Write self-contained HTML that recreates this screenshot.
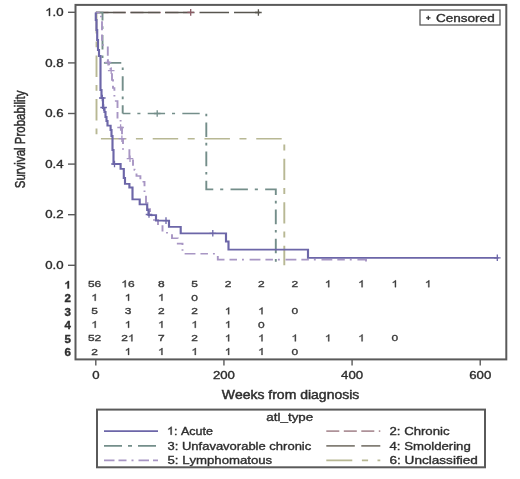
<!DOCTYPE html>
<html><head><meta charset="utf-8"><style>
html,body{margin:0;padding:0;background:#fff;}
svg{display:block;font-family:"Liberation Sans", sans-serif;font-kerning:none;filter:blur(0.3px);}
</style></head><body>
<svg width="520" height="479" viewBox="0 0 520 479">
<rect width="520" height="479" fill="#fff"/>
<rect x="75.5" y="4.9" width="430.8" height="354.5" fill="none" stroke="#5a5a5a" stroke-width="2"/>
<line x1="68" y1="12.30" x2="75.5" y2="12.30" stroke="#5a5a5a" stroke-width="1.4"/>
<text transform="translate(45.15,15.90) scale(1.2,1)" font-size="11" font-weight="normal" fill="#2e2e2e" stroke="#2e2e2e" stroke-width="0.35" > .0</text>
<path transform="translate(45.15,15.90) scale(0.00645,-0.00537)" d="M763 0H583V1147Q518 1085 412 1023Q306 961 222 930V1104Q373 1175 486 1276Q599 1377 646 1472H763Z" fill="#2e2e2e" stroke="#2e2e2e" stroke-width="0.35" vector-effect="non-scaling-stroke"/>
<line x1="68" y1="62.90" x2="75.5" y2="62.90" stroke="#5a5a5a" stroke-width="1.4"/>
<text transform="translate(63.50,66.50) scale(1.2,1)" text-anchor="end" font-size="11" font-weight="normal" fill="#2e2e2e" stroke="#2e2e2e" stroke-width="0.35" >0.8</text>
<line x1="68" y1="113.50" x2="75.5" y2="113.50" stroke="#5a5a5a" stroke-width="1.4"/>
<text transform="translate(63.50,117.10) scale(1.2,1)" text-anchor="end" font-size="11" font-weight="normal" fill="#2e2e2e" stroke="#2e2e2e" stroke-width="0.35" >0.6</text>
<line x1="68" y1="164.10" x2="75.5" y2="164.10" stroke="#5a5a5a" stroke-width="1.4"/>
<text transform="translate(63.50,167.70) scale(1.2,1)" text-anchor="end" font-size="11" font-weight="normal" fill="#2e2e2e" stroke="#2e2e2e" stroke-width="0.35" >0.4</text>
<line x1="68" y1="214.70" x2="75.5" y2="214.70" stroke="#5a5a5a" stroke-width="1.4"/>
<text transform="translate(63.50,218.30) scale(1.2,1)" text-anchor="end" font-size="11" font-weight="normal" fill="#2e2e2e" stroke="#2e2e2e" stroke-width="0.35" >0.2</text>
<line x1="68" y1="265.30" x2="75.5" y2="265.30" stroke="#5a5a5a" stroke-width="1.4"/>
<text transform="translate(63.50,268.90) scale(1.2,1)" text-anchor="end" font-size="11" font-weight="normal" fill="#2e2e2e" stroke="#2e2e2e" stroke-width="0.35" >0.0</text>
<line x1="95.80" y1="359.4" x2="95.80" y2="365.4" stroke="#5a5a5a" stroke-width="1.4"/>
<text transform="translate(95.80,379.20) scale(1.2,1)" text-anchor="middle" font-size="11" font-weight="normal" fill="#2e2e2e" stroke="#2e2e2e" stroke-width="0.35" >0</text>
<line x1="223.94" y1="359.4" x2="223.94" y2="365.4" stroke="#5a5a5a" stroke-width="1.4"/>
<text transform="translate(223.94,379.20) scale(1.2,1)" text-anchor="middle" font-size="11" font-weight="normal" fill="#2e2e2e" stroke="#2e2e2e" stroke-width="0.35" >200</text>
<line x1="352.08" y1="359.4" x2="352.08" y2="365.4" stroke="#5a5a5a" stroke-width="1.4"/>
<text transform="translate(352.08,379.20) scale(1.2,1)" text-anchor="middle" font-size="11" font-weight="normal" fill="#2e2e2e" stroke="#2e2e2e" stroke-width="0.35" >400</text>
<line x1="480.22" y1="359.4" x2="480.22" y2="365.4" stroke="#5a5a5a" stroke-width="1.4"/>
<text transform="translate(480.22,379.20) scale(1.2,1)" text-anchor="middle" font-size="11" font-weight="normal" fill="#2e2e2e" stroke="#2e2e2e" stroke-width="0.35" >600</text>
<text transform="translate(24.8,139.4) rotate(-90) scale(1,1.3)" text-anchor="middle" font-size="11.5" fill="#2e2e2e" stroke="#2e2e2e" stroke-width="0.35">Survival Probability</text>
<text transform="translate(290.50,398.90) scale(1.12,1)" text-anchor="middle" font-size="12.5" font-weight="normal" fill="#2e2e2e" stroke="#2e2e2e" stroke-width="0.45" >Weeks from diagnosis</text>
<rect x="420" y="10" width="80" height="15" fill="none" stroke="#5a5a5a" stroke-width="1.3"/>
<path d="M426.1 17.9 H430.5 M428.3 15.7 V20.1" stroke="#333" stroke-width="1.3"/>
<text transform="translate(436.00,21.90) scale(1.23,1)" text-anchor="start" font-size="11" font-weight="normal" fill="#2e2e2e" stroke="#2e2e2e" stroke-width="0.35" >Censored</text>
<text transform="translate(64.48,288.55) scale(1.1,1)" font-size="10.5" font-weight="bold" fill="#2e2e2e" stroke="#2e2e2e" stroke-width="0.35" > </text>
<path transform="translate(64.48,288.55) scale(0.00564,-0.00513)" d="M806 0H525V1059Q371 915 162 846V1101Q272 1137 401 1238Q530 1339 578 1472H806Z" fill="#2e2e2e" stroke="#2e2e2e" stroke-width="0.35" vector-effect="non-scaling-stroke"/>
<text transform="translate(94.60,287.20) scale(1.26,1)" text-anchor="middle" font-size="9.5" font-weight="normal" fill="#3a3a3a" stroke="#3a3a3a" stroke-width="0.35" >56</text>
<text transform="translate(121.30,287.20) scale(1.26,1)" font-size="9.5" font-weight="normal" fill="#3a3a3a" stroke="#3a3a3a" stroke-width="0.35" > 6</text>
<path transform="translate(121.30,287.20) scale(0.00584,-0.00464)" d="M763 0H583V1147Q518 1085 412 1023Q306 961 222 930V1104Q373 1175 486 1276Q599 1377 646 1472H763Z" fill="#3a3a3a" stroke="#3a3a3a" stroke-width="0.35" vector-effect="non-scaling-stroke"/>
<text transform="translate(161.32,287.20) scale(1.26,1)" text-anchor="middle" font-size="9.5" font-weight="normal" fill="#3a3a3a" stroke="#3a3a3a" stroke-width="0.35" >8</text>
<text transform="translate(194.68,287.20) scale(1.26,1)" text-anchor="middle" font-size="9.5" font-weight="normal" fill="#3a3a3a" stroke="#3a3a3a" stroke-width="0.35" >5</text>
<text transform="translate(228.04,287.20) scale(1.26,1)" text-anchor="middle" font-size="9.5" font-weight="normal" fill="#3a3a3a" stroke="#3a3a3a" stroke-width="0.35" >2</text>
<text transform="translate(261.40,287.20) scale(1.26,1)" text-anchor="middle" font-size="9.5" font-weight="normal" fill="#3a3a3a" stroke="#3a3a3a" stroke-width="0.35" >2</text>
<text transform="translate(294.76,287.20) scale(1.26,1)" text-anchor="middle" font-size="9.5" font-weight="normal" fill="#3a3a3a" stroke="#3a3a3a" stroke-width="0.35" >2</text>
<text transform="translate(324.79,287.20) scale(1.26,1)" font-size="9.5" font-weight="normal" fill="#3a3a3a" stroke="#3a3a3a" stroke-width="0.35" > </text>
<path transform="translate(324.79,287.20) scale(0.00584,-0.00464)" d="M763 0H583V1147Q518 1085 412 1023Q306 961 222 930V1104Q373 1175 486 1276Q599 1377 646 1472H763Z" fill="#3a3a3a" stroke="#3a3a3a" stroke-width="0.35" vector-effect="non-scaling-stroke"/>
<text transform="translate(358.15,287.20) scale(1.26,1)" font-size="9.5" font-weight="normal" fill="#3a3a3a" stroke="#3a3a3a" stroke-width="0.35" > </text>
<path transform="translate(358.15,287.20) scale(0.00584,-0.00464)" d="M763 0H583V1147Q518 1085 412 1023Q306 961 222 930V1104Q373 1175 486 1276Q599 1377 646 1472H763Z" fill="#3a3a3a" stroke="#3a3a3a" stroke-width="0.35" vector-effect="non-scaling-stroke"/>
<text transform="translate(391.51,287.20) scale(1.26,1)" font-size="9.5" font-weight="normal" fill="#3a3a3a" stroke="#3a3a3a" stroke-width="0.35" > </text>
<path transform="translate(391.51,287.20) scale(0.00584,-0.00464)" d="M763 0H583V1147Q518 1085 412 1023Q306 961 222 930V1104Q373 1175 486 1276Q599 1377 646 1472H763Z" fill="#3a3a3a" stroke="#3a3a3a" stroke-width="0.35" vector-effect="non-scaling-stroke"/>
<text transform="translate(424.87,287.20) scale(1.26,1)" font-size="9.5" font-weight="normal" fill="#3a3a3a" stroke="#3a3a3a" stroke-width="0.35" > </text>
<path transform="translate(424.87,287.20) scale(0.00584,-0.00464)" d="M763 0H583V1147Q518 1085 412 1023Q306 961 222 930V1104Q373 1175 486 1276Q599 1377 646 1472H763Z" fill="#3a3a3a" stroke="#3a3a3a" stroke-width="0.35" vector-effect="non-scaling-stroke"/>
<text transform="translate(70.90,302.09) scale(1.1,1)" text-anchor="end" font-size="10.5" font-weight="bold" fill="#2e2e2e" stroke="#2e2e2e" stroke-width="0.35" >2</text>
<text transform="translate(91.27,300.74) scale(1.26,1)" font-size="9.5" font-weight="normal" fill="#3a3a3a" stroke="#3a3a3a" stroke-width="0.35" > </text>
<path transform="translate(91.27,300.74) scale(0.00584,-0.00464)" d="M763 0H583V1147Q518 1085 412 1023Q306 961 222 930V1104Q373 1175 486 1276Q599 1377 646 1472H763Z" fill="#3a3a3a" stroke="#3a3a3a" stroke-width="0.35" vector-effect="non-scaling-stroke"/>
<text transform="translate(124.63,300.74) scale(1.26,1)" font-size="9.5" font-weight="normal" fill="#3a3a3a" stroke="#3a3a3a" stroke-width="0.35" > </text>
<path transform="translate(124.63,300.74) scale(0.00584,-0.00464)" d="M763 0H583V1147Q518 1085 412 1023Q306 961 222 930V1104Q373 1175 486 1276Q599 1377 646 1472H763Z" fill="#3a3a3a" stroke="#3a3a3a" stroke-width="0.35" vector-effect="non-scaling-stroke"/>
<text transform="translate(157.99,300.74) scale(1.26,1)" font-size="9.5" font-weight="normal" fill="#3a3a3a" stroke="#3a3a3a" stroke-width="0.35" > </text>
<path transform="translate(157.99,300.74) scale(0.00584,-0.00464)" d="M763 0H583V1147Q518 1085 412 1023Q306 961 222 930V1104Q373 1175 486 1276Q599 1377 646 1472H763Z" fill="#3a3a3a" stroke="#3a3a3a" stroke-width="0.35" vector-effect="non-scaling-stroke"/>
<text transform="translate(194.68,300.74) scale(1.26,1)" text-anchor="middle" font-size="9.5" font-weight="normal" fill="#3a3a3a" stroke="#3a3a3a" stroke-width="0.35" >0</text>
<text transform="translate(70.90,315.63) scale(1.1,1)" text-anchor="end" font-size="10.5" font-weight="bold" fill="#2e2e2e" stroke="#2e2e2e" stroke-width="0.35" >3</text>
<text transform="translate(94.60,314.28) scale(1.26,1)" text-anchor="middle" font-size="9.5" font-weight="normal" fill="#3a3a3a" stroke="#3a3a3a" stroke-width="0.35" >5</text>
<text transform="translate(127.96,314.28) scale(1.26,1)" text-anchor="middle" font-size="9.5" font-weight="normal" fill="#3a3a3a" stroke="#3a3a3a" stroke-width="0.35" >3</text>
<text transform="translate(161.32,314.28) scale(1.26,1)" text-anchor="middle" font-size="9.5" font-weight="normal" fill="#3a3a3a" stroke="#3a3a3a" stroke-width="0.35" >2</text>
<text transform="translate(194.68,314.28) scale(1.26,1)" text-anchor="middle" font-size="9.5" font-weight="normal" fill="#3a3a3a" stroke="#3a3a3a" stroke-width="0.35" >2</text>
<text transform="translate(224.71,314.28) scale(1.26,1)" font-size="9.5" font-weight="normal" fill="#3a3a3a" stroke="#3a3a3a" stroke-width="0.35" > </text>
<path transform="translate(224.71,314.28) scale(0.00584,-0.00464)" d="M763 0H583V1147Q518 1085 412 1023Q306 961 222 930V1104Q373 1175 486 1276Q599 1377 646 1472H763Z" fill="#3a3a3a" stroke="#3a3a3a" stroke-width="0.35" vector-effect="non-scaling-stroke"/>
<text transform="translate(258.07,314.28) scale(1.26,1)" font-size="9.5" font-weight="normal" fill="#3a3a3a" stroke="#3a3a3a" stroke-width="0.35" > </text>
<path transform="translate(258.07,314.28) scale(0.00584,-0.00464)" d="M763 0H583V1147Q518 1085 412 1023Q306 961 222 930V1104Q373 1175 486 1276Q599 1377 646 1472H763Z" fill="#3a3a3a" stroke="#3a3a3a" stroke-width="0.35" vector-effect="non-scaling-stroke"/>
<text transform="translate(294.76,314.28) scale(1.26,1)" text-anchor="middle" font-size="9.5" font-weight="normal" fill="#3a3a3a" stroke="#3a3a3a" stroke-width="0.35" >0</text>
<text transform="translate(70.90,329.17) scale(1.1,1)" text-anchor="end" font-size="10.5" font-weight="bold" fill="#2e2e2e" stroke="#2e2e2e" stroke-width="0.35" >4</text>
<text transform="translate(91.27,327.82) scale(1.26,1)" font-size="9.5" font-weight="normal" fill="#3a3a3a" stroke="#3a3a3a" stroke-width="0.35" > </text>
<path transform="translate(91.27,327.82) scale(0.00584,-0.00464)" d="M763 0H583V1147Q518 1085 412 1023Q306 961 222 930V1104Q373 1175 486 1276Q599 1377 646 1472H763Z" fill="#3a3a3a" stroke="#3a3a3a" stroke-width="0.35" vector-effect="non-scaling-stroke"/>
<text transform="translate(124.63,327.82) scale(1.26,1)" font-size="9.5" font-weight="normal" fill="#3a3a3a" stroke="#3a3a3a" stroke-width="0.35" > </text>
<path transform="translate(124.63,327.82) scale(0.00584,-0.00464)" d="M763 0H583V1147Q518 1085 412 1023Q306 961 222 930V1104Q373 1175 486 1276Q599 1377 646 1472H763Z" fill="#3a3a3a" stroke="#3a3a3a" stroke-width="0.35" vector-effect="non-scaling-stroke"/>
<text transform="translate(157.99,327.82) scale(1.26,1)" font-size="9.5" font-weight="normal" fill="#3a3a3a" stroke="#3a3a3a" stroke-width="0.35" > </text>
<path transform="translate(157.99,327.82) scale(0.00584,-0.00464)" d="M763 0H583V1147Q518 1085 412 1023Q306 961 222 930V1104Q373 1175 486 1276Q599 1377 646 1472H763Z" fill="#3a3a3a" stroke="#3a3a3a" stroke-width="0.35" vector-effect="non-scaling-stroke"/>
<text transform="translate(191.35,327.82) scale(1.26,1)" font-size="9.5" font-weight="normal" fill="#3a3a3a" stroke="#3a3a3a" stroke-width="0.35" > </text>
<path transform="translate(191.35,327.82) scale(0.00584,-0.00464)" d="M763 0H583V1147Q518 1085 412 1023Q306 961 222 930V1104Q373 1175 486 1276Q599 1377 646 1472H763Z" fill="#3a3a3a" stroke="#3a3a3a" stroke-width="0.35" vector-effect="non-scaling-stroke"/>
<text transform="translate(224.71,327.82) scale(1.26,1)" font-size="9.5" font-weight="normal" fill="#3a3a3a" stroke="#3a3a3a" stroke-width="0.35" > </text>
<path transform="translate(224.71,327.82) scale(0.00584,-0.00464)" d="M763 0H583V1147Q518 1085 412 1023Q306 961 222 930V1104Q373 1175 486 1276Q599 1377 646 1472H763Z" fill="#3a3a3a" stroke="#3a3a3a" stroke-width="0.35" vector-effect="non-scaling-stroke"/>
<text transform="translate(261.40,327.82) scale(1.26,1)" text-anchor="middle" font-size="9.5" font-weight="normal" fill="#3a3a3a" stroke="#3a3a3a" stroke-width="0.35" >0</text>
<text transform="translate(70.90,342.71) scale(1.1,1)" text-anchor="end" font-size="10.5" font-weight="bold" fill="#2e2e2e" stroke="#2e2e2e" stroke-width="0.35" >5</text>
<text transform="translate(94.60,341.36) scale(1.26,1)" text-anchor="middle" font-size="9.5" font-weight="normal" fill="#3a3a3a" stroke="#3a3a3a" stroke-width="0.35" >52</text>
<text transform="translate(121.30,341.36) scale(1.26,1)" font-size="9.5" font-weight="normal" fill="#3a3a3a" stroke="#3a3a3a" stroke-width="0.35" >2 </text>
<path transform="translate(127.96,341.36) scale(0.00584,-0.00464)" d="M763 0H583V1147Q518 1085 412 1023Q306 961 222 930V1104Q373 1175 486 1276Q599 1377 646 1472H763Z" fill="#3a3a3a" stroke="#3a3a3a" stroke-width="0.35" vector-effect="non-scaling-stroke"/>
<text transform="translate(161.32,341.36) scale(1.26,1)" text-anchor="middle" font-size="9.5" font-weight="normal" fill="#3a3a3a" stroke="#3a3a3a" stroke-width="0.35" >7</text>
<text transform="translate(194.68,341.36) scale(1.26,1)" text-anchor="middle" font-size="9.5" font-weight="normal" fill="#3a3a3a" stroke="#3a3a3a" stroke-width="0.35" >2</text>
<text transform="translate(224.71,341.36) scale(1.26,1)" font-size="9.5" font-weight="normal" fill="#3a3a3a" stroke="#3a3a3a" stroke-width="0.35" > </text>
<path transform="translate(224.71,341.36) scale(0.00584,-0.00464)" d="M763 0H583V1147Q518 1085 412 1023Q306 961 222 930V1104Q373 1175 486 1276Q599 1377 646 1472H763Z" fill="#3a3a3a" stroke="#3a3a3a" stroke-width="0.35" vector-effect="non-scaling-stroke"/>
<text transform="translate(258.07,341.36) scale(1.26,1)" font-size="9.5" font-weight="normal" fill="#3a3a3a" stroke="#3a3a3a" stroke-width="0.35" > </text>
<path transform="translate(258.07,341.36) scale(0.00584,-0.00464)" d="M763 0H583V1147Q518 1085 412 1023Q306 961 222 930V1104Q373 1175 486 1276Q599 1377 646 1472H763Z" fill="#3a3a3a" stroke="#3a3a3a" stroke-width="0.35" vector-effect="non-scaling-stroke"/>
<text transform="translate(291.43,341.36) scale(1.26,1)" font-size="9.5" font-weight="normal" fill="#3a3a3a" stroke="#3a3a3a" stroke-width="0.35" > </text>
<path transform="translate(291.43,341.36) scale(0.00584,-0.00464)" d="M763 0H583V1147Q518 1085 412 1023Q306 961 222 930V1104Q373 1175 486 1276Q599 1377 646 1472H763Z" fill="#3a3a3a" stroke="#3a3a3a" stroke-width="0.35" vector-effect="non-scaling-stroke"/>
<text transform="translate(324.79,341.36) scale(1.26,1)" font-size="9.5" font-weight="normal" fill="#3a3a3a" stroke="#3a3a3a" stroke-width="0.35" > </text>
<path transform="translate(324.79,341.36) scale(0.00584,-0.00464)" d="M763 0H583V1147Q518 1085 412 1023Q306 961 222 930V1104Q373 1175 486 1276Q599 1377 646 1472H763Z" fill="#3a3a3a" stroke="#3a3a3a" stroke-width="0.35" vector-effect="non-scaling-stroke"/>
<text transform="translate(358.15,341.36) scale(1.26,1)" font-size="9.5" font-weight="normal" fill="#3a3a3a" stroke="#3a3a3a" stroke-width="0.35" > </text>
<path transform="translate(358.15,341.36) scale(0.00584,-0.00464)" d="M763 0H583V1147Q518 1085 412 1023Q306 961 222 930V1104Q373 1175 486 1276Q599 1377 646 1472H763Z" fill="#3a3a3a" stroke="#3a3a3a" stroke-width="0.35" vector-effect="non-scaling-stroke"/>
<text transform="translate(394.84,341.36) scale(1.26,1)" text-anchor="middle" font-size="9.5" font-weight="normal" fill="#3a3a3a" stroke="#3a3a3a" stroke-width="0.35" >0</text>
<text transform="translate(70.90,356.25) scale(1.1,1)" text-anchor="end" font-size="10.5" font-weight="bold" fill="#2e2e2e" stroke="#2e2e2e" stroke-width="0.35" >6</text>
<text transform="translate(94.60,354.90) scale(1.26,1)" text-anchor="middle" font-size="9.5" font-weight="normal" fill="#3a3a3a" stroke="#3a3a3a" stroke-width="0.35" >2</text>
<text transform="translate(124.63,354.90) scale(1.26,1)" font-size="9.5" font-weight="normal" fill="#3a3a3a" stroke="#3a3a3a" stroke-width="0.35" > </text>
<path transform="translate(124.63,354.90) scale(0.00584,-0.00464)" d="M763 0H583V1147Q518 1085 412 1023Q306 961 222 930V1104Q373 1175 486 1276Q599 1377 646 1472H763Z" fill="#3a3a3a" stroke="#3a3a3a" stroke-width="0.35" vector-effect="non-scaling-stroke"/>
<text transform="translate(157.99,354.90) scale(1.26,1)" font-size="9.5" font-weight="normal" fill="#3a3a3a" stroke="#3a3a3a" stroke-width="0.35" > </text>
<path transform="translate(157.99,354.90) scale(0.00584,-0.00464)" d="M763 0H583V1147Q518 1085 412 1023Q306 961 222 930V1104Q373 1175 486 1276Q599 1377 646 1472H763Z" fill="#3a3a3a" stroke="#3a3a3a" stroke-width="0.35" vector-effect="non-scaling-stroke"/>
<text transform="translate(191.35,354.90) scale(1.26,1)" font-size="9.5" font-weight="normal" fill="#3a3a3a" stroke="#3a3a3a" stroke-width="0.35" > </text>
<path transform="translate(191.35,354.90) scale(0.00584,-0.00464)" d="M763 0H583V1147Q518 1085 412 1023Q306 961 222 930V1104Q373 1175 486 1276Q599 1377 646 1472H763Z" fill="#3a3a3a" stroke="#3a3a3a" stroke-width="0.35" vector-effect="non-scaling-stroke"/>
<text transform="translate(224.71,354.90) scale(1.26,1)" font-size="9.5" font-weight="normal" fill="#3a3a3a" stroke="#3a3a3a" stroke-width="0.35" > </text>
<path transform="translate(224.71,354.90) scale(0.00584,-0.00464)" d="M763 0H583V1147Q518 1085 412 1023Q306 961 222 930V1104Q373 1175 486 1276Q599 1377 646 1472H763Z" fill="#3a3a3a" stroke="#3a3a3a" stroke-width="0.35" vector-effect="non-scaling-stroke"/>
<text transform="translate(258.07,354.90) scale(1.26,1)" font-size="9.5" font-weight="normal" fill="#3a3a3a" stroke="#3a3a3a" stroke-width="0.35" > </text>
<path transform="translate(258.07,354.90) scale(0.00584,-0.00464)" d="M763 0H583V1147Q518 1085 412 1023Q306 961 222 930V1104Q373 1175 486 1276Q599 1377 646 1472H763Z" fill="#3a3a3a" stroke="#3a3a3a" stroke-width="0.35" vector-effect="non-scaling-stroke"/>
<text transform="translate(294.76,354.90) scale(1.26,1)" text-anchor="middle" font-size="9.5" font-weight="normal" fill="#3a3a3a" stroke="#3a3a3a" stroke-width="0.35" >0</text>
<rect x="97" y="409.6" width="388" height="57.7" fill="none" stroke="#5a5a5a" stroke-width="2"/>
<text transform="translate(289.80,421.30) scale(1.22,1)" text-anchor="middle" font-size="11" font-weight="normal" fill="#2e2e2e" stroke="#2e2e2e" stroke-width="0.35" >atl_type</text>
<line x1="104" y1="431.1" x2="158" y2="431.1" stroke="#6c66a8" stroke-width="1.7"/>
<text transform="translate(167.00,434.70) scale(1.14,1)" font-size="11" font-weight="normal" fill="#2e2e2e" stroke="#2e2e2e" stroke-width="0.35" > : Acute</text>
<path transform="translate(167.00,434.70) scale(0.00612,-0.00537)" d="M763 0H583V1147Q518 1085 412 1023Q306 961 222 930V1104Q373 1175 486 1276Q599 1377 646 1472H763Z" fill="#2e2e2e" stroke="#2e2e2e" stroke-width="0.35" vector-effect="non-scaling-stroke"/>
<line x1="326.3" y1="431.1" x2="380.3" y2="431.1" stroke="#ae9299" stroke-width="1.7" stroke-dasharray="13 4.5"/>
<text transform="translate(389.50,434.70) scale(1.2,1)" text-anchor="start" font-size="11" font-weight="normal" fill="#2e2e2e" stroke="#2e2e2e" stroke-width="0.35" >2: Chronic</text>
<line x1="104" y1="445.9" x2="158" y2="445.9" stroke="#748e8a" stroke-width="1.7" stroke-dasharray="18 6 4 6"/>
<text transform="translate(167.50,449.50) scale(1.183,1)" text-anchor="start" font-size="11" font-weight="normal" fill="#2e2e2e" stroke="#2e2e2e" stroke-width="0.35" >3: Unfavavorable chronic</text>
<line x1="326.3" y1="445.9" x2="380.3" y2="445.9" stroke="#827e76" stroke-width="1.7" stroke-dasharray="28.5 6.5"/>
<text transform="translate(389.50,449.50) scale(1.2,1)" text-anchor="start" font-size="11" font-weight="normal" fill="#2e2e2e" stroke="#2e2e2e" stroke-width="0.35" >4: Smoldering</text>
<line x1="104" y1="460.3" x2="158" y2="460.3" stroke="#a896c4" stroke-width="1.7" stroke-dasharray="10.5 4 8 5 2 5"/>
<text transform="translate(167.50,463.90) scale(1.2,1)" text-anchor="start" font-size="11" font-weight="normal" fill="#2e2e2e" stroke="#2e2e2e" stroke-width="0.35" >5: Lymphomatous</text>
<line x1="326.3" y1="460.3" x2="380.3" y2="460.3" stroke="#b8b894" stroke-width="1.7" stroke-dasharray="26 9.6 6.2 9.4"/>
<text transform="translate(389.50,463.90) scale(1.235,1)" text-anchor="start" font-size="11" font-weight="normal" fill="#2e2e2e" stroke="#2e2e2e" stroke-width="0.35" >6: Unclassified</text>
<g transform="translate(95.8 0) scale(1.19 1) translate(-95.8 0)">
<path d="M 95.800 12.5 H 96.388 V 138.8 H 254.203 V 265.3" fill="none" stroke="#b8b894" stroke-width="1.6" stroke-dasharray="21.4 8 5.9 8.2" stroke-dashoffset="43.385"/>
<path d="M 95.800 12.5 H 175.548" fill="none" stroke="#a4828a" stroke-width="1.6" stroke-dasharray="10.9 3.8" stroke-dashoffset="0.240"/>
<path d="M 95.800 12.5 H 233.615" fill="none" stroke="#58564f" stroke-width="1.6" stroke-dasharray="24.8 4.2" stroke-dashoffset="28.840"/>
<path d="M 95.800 12.5 H 101.430 V 62.9 H 118.405 V 113.5" fill="none" stroke="#748e8a" stroke-width="1.6" stroke-dasharray="14.6 5.8 2.6 6.1" stroke-dashoffset="0.993"/>
<path d="M 118.405 113.5 H 188.657 V 189.4 H 247.061 V 265.3" fill="none" stroke="#748e8a" stroke-width="1.6" stroke-dasharray="14.6 5.8 2.6 6.1" stroke-dashoffset="8.092"/>
<path d="M 95.800 12.5 H 100.170 V 20 H 101.010 V 45 H 105.884 V 62.3 H 106.892 V 66 H 108.153 V 72 H 109.413 V 80 H 110.254 V 88 H 111.430 V 101 H 114.035 V 120 H 116.640 V 127.5 H 117.817 V 138.7 H 118.657 V 150 H 124.035 V 158.7 H 127.061 V 165 H 128.321 V 170 H 130.002 V 176 H 133.279 V 181.7 H 136.724 V 195 H 137.985 V 203 H 139.245 V 209 H 141.346 V 215.5 H 144.708 V 220 H 148.069 V 225.2 H 151.850 V 232.8 H 159.834 V 238.3 H 164.708 V 243.6 H 168.657 V 253.8 H 198.321 V 259.6 H 322.859 V 265.3" fill="none" stroke="#a896c4" stroke-width="1.6" stroke-dasharray="9.1 4.2 6.3 4.2 1.6 4.8" stroke-dashoffset="16.256"/>
<path d="M 95.800 12.5 V 20 H 96.388 V 30 H 96.976 V 40 H 97.649 V 50 H 98.489 V 56 H 99.750 V 90 H 100.590 V 98 H 101.850 V 108 H 103.111 V 112 H 103.951 V 117 H 104.792 V 121 H 105.632 V 125.6 H 108.237 V 130 H 108.993 V 136 H 109.834 V 150 H 110.674 V 164 H 116.640 V 168.8 H 119.329 V 178 H 120.338 V 183.8 H 124.035 V 187.5 H 126.640 V 199.4 H 132.691 V 204.4 H 138.993 V 210 H 140.086 V 215.2 H 146.388 V 220.6 H 157.313 V 226.8 H 167.145 V 233.3 H 205.212 V 241.5 H 207.313 V 249.6 H 274.119 V 257.8 H 434.203" fill="none" stroke="#6c66a8" stroke-width="1.8"/>
</g>
<path d="M187.40 12.40 H194.00 M190.70 9.10 V15.70" stroke="#8a5a64" stroke-width="1.3"/>
<path d="M255.10 12.50 H261.70 M258.40 9.20 V15.80" stroke="#58564f" stroke-width="1.3"/>
<path d="M153.90 113.50 H160.50 M157.20 110.20 V116.80" stroke="#748e8a" stroke-width="1.3"/>
<path d="M104.70 62.30 H111.30 M108.00 59.00 V65.60" stroke="#a896c4" stroke-width="1.3"/>
<path d="M107.90 70.60 H114.50 M111.20 67.30 V73.90" stroke="#a896c4" stroke-width="1.3"/>
<path d="M117.30 127.50 H123.90 M120.60 124.20 V130.80" stroke="#a896c4" stroke-width="1.3"/>
<path d="M118.60 138.70 H125.20 M121.90 135.40 V142.00" stroke="#a896c4" stroke-width="1.3"/>
<path d="M126.70 158.70 H133.30 M130.00 155.40 V162.00" stroke="#a896c4" stroke-width="1.3"/>
<path d="M99.00 98.00 H105.60 M102.30 94.70 V101.30" stroke="#6c66a8" stroke-width="1.3"/>
<path d="M100.30 107.50 H106.90 M103.60 104.20 V110.80" stroke="#6c66a8" stroke-width="1.3"/>
<path d="M111.20 164.00 H117.80 M114.50 160.70 V167.30" stroke="#6c66a8" stroke-width="1.3"/>
<path d="M145.70 214.50 H152.30 M149.00 211.20 V217.80" stroke="#6c66a8" stroke-width="1.3"/>
<path d="M162.70 220.60 H169.30 M166.00 217.30 V223.90" stroke="#6c66a8" stroke-width="1.3"/>
<path d="M209.50 233.30 H216.10 M212.80 230.00 V236.60" stroke="#6c66a8" stroke-width="1.3"/>
<path d="M494.00 257.80 H500.60 M497.30 254.50 V261.10" stroke="#6c66a8" stroke-width="1.3"/>
</svg>
</body></html>
